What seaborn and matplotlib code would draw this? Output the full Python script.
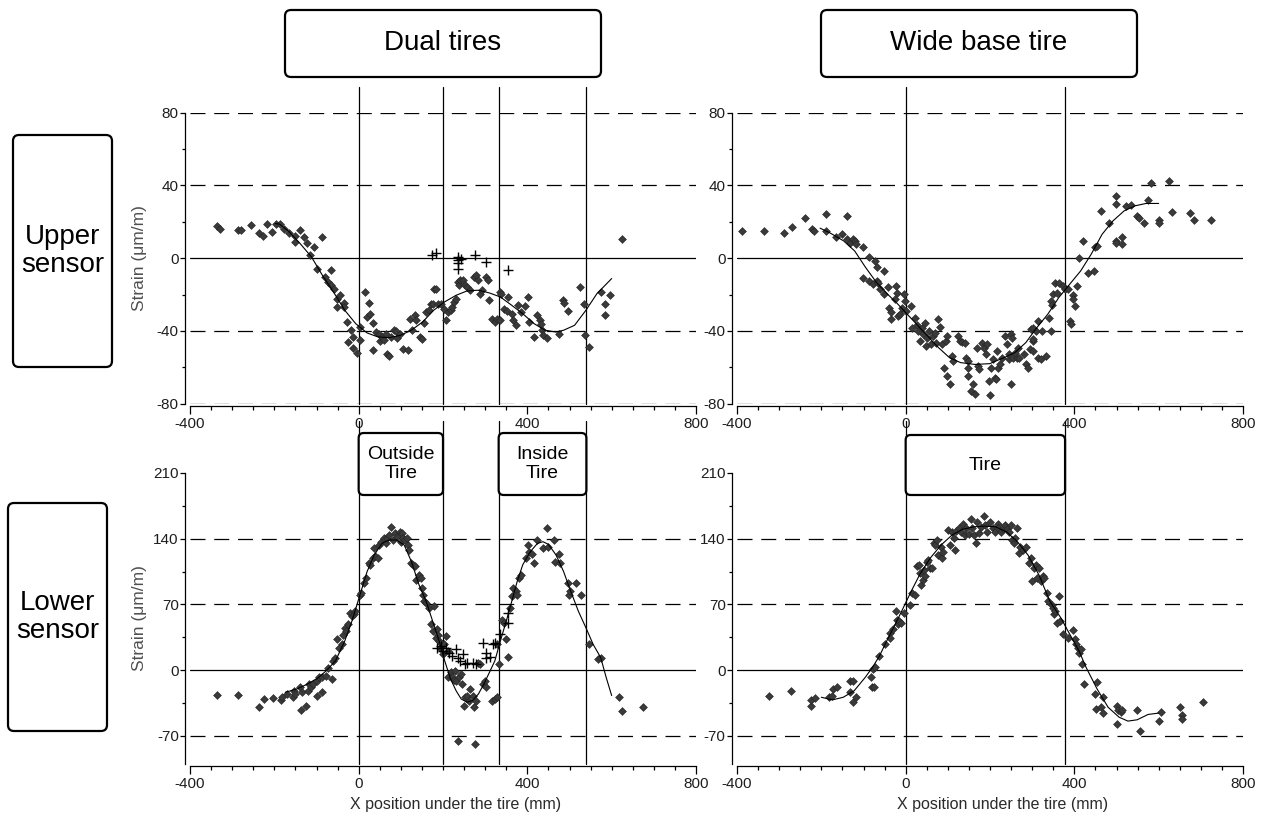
import matplotlib

matplotlib.use("Agg")

import matplotlib.pyplot as plt
import seaborn as sns
from matplotlib.patches import FancyBboxPatch
from matplotlib.ticker import MultipleLocator


# ---- upper sensor, dual tires ----
UD_X = [-335, -328, -286, -278, -256, -236, -227, -217, -205, -196, -187, -176, -165, -152, -152,
        -139, -130, -123, -115, -106, -99, -86, -80, -73, -66, -66, -58, -51, -45, -51, -35, -35,
        -27, -26, -17, -13, -14, -5, 2, 2, 14, 20, 25, 28, 35, 35, 42, 48, 50, 55, 59, 64, 68, 72,
        77, 83, 88, 92, 99, 106, 116, 122, 127, 134, 136, 145, 150, 156, 160, 167, 171, 176, 178,
        184, 187, 196, 203, 206, 213, 218, 222, 226, 231, 235, 238, 241, 248, 253, 257, 264, 273,
        279, 284, 288, 292, 301, 306, 308, 317, 323, 328, 335, 336, 338, 345, 352, 354, 363, 367,
        372, 378, 385, 394, 402, 405, 416, 424, 429, 433, 435, 438, 446, 475, 484, 486, 496, 526,
        534, 537, 546, 574, 585, 585, 596, 625]
UD_Y = [17.6, 16.1, 15.4, 15.4, 18.2, 13.6, 12.1, 18.7, 14.5, 18.7, 18.7, 16.3, 13.6, 12.1, 9.0,
        15.4, 11.7, 8.4, 2.0, 6.2, -5.7, 11.4, -10.3, -13.0, -6.6, -14.9, -16.7, -22.2, -20.4, -26.8,
        -24.6, -26.8, -35.0, -46.0, -39.6, -43.3, -49.2, -52.0, -45.0, -37.8, -18.5, -32.3, -24.4,
        -30.5, -35.6, -50.6, -40.6, -41.5, -45.5, -43.3, -45.1, -41.5, -52.5, -54.0, -43.3, -39.3,
        -40.0, -43.7, -41.5, -49.7, -50.6, -33.2, -39.6, -31.4, -34.1, -43.3, -44.2, -35.6, -29.5,
        -28.3, -25.0, -25.0, -16.7, -16.7, -25.0, -25.3, -27.7, -34.1, -29.5, -28.6, -26.8, -24.0,
        -22.2, -13.0, -14.9, -12.1, -12.1, -14.9, -15.8, -17.6, -10.3, -9.4, -12.1, -19.5, -17.6,
        -10.3, -12.1, -23.1, -33.2, -35.0, -33.2, -34.1, -18.5, -19.5, -27.7, -29.0, -21.3, -30.5,
        -34.1, -36.9, -25.9, -29.5, -26.4, -21.3, -35.0, -43.3, -31.4, -34.1, -36.0, -39.6, -42.4,
        -43.7, -41.5, -22.8, -24.6, -29.2, -15.8, -25.3, -42.4, -48.8, -18.5, -25.3, -31.4, -20.4,
        10.6]
UD_PLUS_X = [175, 183, 235, 235, 235, 235, 242, 275, 301, 354]
UD_PLUS_Y = [1.7, 2.9, 0.4, -1.1, -2.9, -6.2, -0.7, 1.7, -2.0, -6.6]
UD_FIT_X = [-198, -187, -165, -139, -112, -86, -60, -33, -7, 20, 46, 72, 99, 125, 152, 178, 204,
            231, 257, 284, 310, 336, 363, 389, 416, 442, 468, 486, 512, 539, 565, 600]
UD_FIT_Y = [19.1, 18.7, 14.5, 8.1, 0.7, -9.4, -18.5, -28.6, -36.0, -41.1, -43.3, -43.7, -42.4,
            -39.6, -35.0, -28.6, -24.0, -20.4, -18.0, -17.6, -19.1, -21.3, -25.9, -30.5, -36.0,
            -39.6, -40.6, -39.6, -36.9, -28.6, -19.5, -11.2]

# ---- upper sensor, wide base tire ----
UW_X = [-387, -337, -289, -269, -239, -223, -218, -188, -188, -166, -152, -138, -138, -131, -125,
        -121, -117, -102, -102, -88, -86, -78, -72, -69, -67, -65, -60, -52, -52, -43, -39, -35,
        -35, -26, -22, -20, -17, -13, -9, -4, -2, 0, 13, 16, 22, 26, 30, 33, 39, 42, 45, 48, 50,
        56, 60, 65, 69, 73, 76, 82, 85, 91, 95, 98, 99, 104, 111, 112, 123, 128, 134, 141, 143,
        147, 147, 149, 154, 160, 164, 168, 171, 173, 181, 186, 190, 194, 197, 199, 203, 207, 212,
        214, 216, 218, 223, 229, 235, 240, 244, 246, 249, 250, 252, 255, 259, 263, 266, 268, 281,
        285, 289, 294, 298, 301, 301, 301, 302, 309, 315, 315, 320, 324, 332, 341, 344, 345, 347,
        350, 354, 358, 363, 374, 378, 384, 390, 393, 397, 397, 402, 406, 410, 421, 432, 447, 449,
        454, 463, 482, 499, 499, 499, 499, 514, 514, 522, 535, 548, 553, 566, 574, 583, 600, 600,
        624, 632, 675, 684, 725]
UW_Y = [15.0, 15.0, 13.6, 17.2, 22.0, 16.0, 15.0, 24.2, 14.7, 11.7, 13.2, 23.3, 10.5, 8.6, 10.5,
        9.5, 7.7, 6.2, -11.0, 0.4, -12.5, -14.3, -1.5, -12.5, -5.1, -13.9, -17.0, -7.0, -19.5,
        -16.1, -27.2, -29.4, -33.6, -22.6, -15.2, -18.9, -31.7, -30.8, -27.2, -19.8, -23.5, -29.0,
        -26.2, -38.2, -32.7, -36.7, -40.0, -45.5, -38.2, -41.8, -35.4, -48.3, -43.7, -40.0, -47.3,
        -42.8, -40.9, -46.4, -33.6, -37.8, -47.3, -60.2, -45.5, -64.8, -42.8, -69.4, -53.8, -56.5,
        -42.8, -45.5, -45.9, -46.4, -54.7, -60.2, -64.8, -56.5, -73.0, -69.4, -74.9, -49.2, -59.3,
        -61.1, -46.4, -49.2, -52.8, -47.3, -67.5, -75.2, -60.2, -55.6, -65.7, -66.6, -51.0, -60.2,
        -58.4, -54.7, -42.8, -47.3, -55.6, -52.8, -69.4, -41.8, -43.7, -54.7, -51.9, -54.7, -49.2,
        -54.7, -52.8, -58.4, -60.2, -50.1, -39.1, -38.2, -45.5, -51.0, -44.6, -40.0, -34.5, -54.7,
        -55.6, -40.0, -53.8, -32.7, -40.0, -23.5, -25.9, -19.5, -13.4, -18.9, -13.4, -15.2, -17.0,
        -17.0, -34.5, -36.3, -20.2, -22.6, -26.2, -15.2, 0.0, 9.5, -8.4, -7.3, 5.9, 6.8, 26.0,
        19.6, 34.3, 29.7, 9.5, 8.1, 11.4, 7.7, 28.8, 29.4, 23.3, 22.0, 19.6, 32.1, 41.3, 20.9,
        19.1, 42.6, 25.5, 24.6, 21.1, 21.1]
UW_FIT_X = [-203, -181, -147, -121, -95, -69, -43, -22, 0, 26, 52, 78, 104, 130, 164, 199, 233,
            259, 285, 311, 337, 363, 389, 415, 440, 466, 492, 518, 544, 570, 600]
UW_FIT_Y = [16.5, 14.1, 9.5, 4.0, -5.1, -13.4, -19.8, -24.4, -29.9, -36.3, -42.8, -49.2, -54.7,
            -57.4, -58.4, -58.0, -54.7, -51.9, -46.4, -38.2, -30.8, -21.7, -14.3, -7.0, 2.2, 13.2,
            20.6, 26.0, 28.8, 30.1, 30.1]

# ---- lower sensor, dual tires ----
LD_X = [-335, -286, -236, -225, -202, -184, -182, -170, -156, -153, -152, -139, -136, -134, -125,
        -121, -117, -112, -108, -99, -99, -93, -86, -86, -77, -73, -64, -61, -55, -51, -46, -40,
        -38, -33, -29, -26, -20, -16, -11, -9, 2, 6, 13, 18, 24, 27, 33, 37, 39, 46, 48, 53, 59,
        64, 68, 72, 77, 81, 85, 90, 97, 100, 103, 105, 111, 114, 116, 120, 125, 129, 134, 136, 143,
        147, 150, 152, 156, 160, 167, 171, 176, 178, 183, 185, 187, 191, 194, 196, 200, 203, 206,
        211, 213, 218, 222, 226, 229, 232, 235, 239, 243, 246, 249, 252, 257, 261, 265, 270, 273,
        275, 279, 284, 288, 294, 299, 303, 317, 323, 328, 328, 332, 341, 345, 350, 353, 359, 363,
        367, 372, 376, 380, 384, 398, 402, 405, 411, 415, 424, 437, 446, 450, 464, 466, 476, 478,
        496, 499, 502, 515, 528, 547, 567, 575, 618, 625, 675]
LD_Y = [-27.0, -27.0, -38.8, -30.7, -29.6, -31.7, -28.9, -25.4, -28.9, -22.6, -25.4, -18.3, -42.3,
        -23.6, -37.7, -21.9, -14.8, -18.3, -14.8, -27.1, -11.3, -7.8, -23.6, -7.8, -6.0, 2.1, -9.5,
        9.9, 13.4, 32.8, 24.0, 27.5, 37.4, 45.1, 41.6, 48.7, 61.0, 57.5, 59.9, 62.8, 80.4, 82.2,
        92.7, 98.0, 113.9, 112.1, 119.2, 129.8, 122.0, 119.2, 133.3, 136.8, 140.3, 135.0, 140.3,
        143.9, 152.0, 138.6, 145.6, 142.1, 147.4, 136.8, 145.6, 141.0, 138.6, 141.0, 133.3, 128.0,
        113.9, 112.1, 110.4, 96.3, 101.5, 98.0, 87.4, 80.4, 73.3, 71.6, 66.3, 48.7, 41.6, 68.0,
        34.6, 43.4, 37.4, 31.0, 23.3, 29.3, 16.9, 27.5, 36.3, 20.5, -7.0, -2.5, -7.8, -10.6, -0.7,
        -12.0, -75.5, -7.8, -4.2, -14.8, -37.7, -28.9, -27.1, -32.4, -20.1, -27.1, -38.8, -79.0,
        -33.1, 8.1, 6.3, -14.8, -11.3, -18.3, -33.1, -30.7, -28.9, 27.5, 6.3, 52.9, 50.4, 32.8,
        14.1, 66.3, 78.6, 87.4, 83.9, 80.4, 98.0, 101.5, 119.9, 133.3, 126.2, 123.4, 113.9, 138.6,
        129.8, 150.9, 131.5, 138.6, 115.0, 123.4, 113.9, 92.7, 80.4, 83.9, 92.7, 80.4, 27.5, 11.6,
        13.4, -28.2, -43.7, -39.5]
LD_PLUS_X = [185, 196, 200, 208, 215, 222, 231, 235, 241, 248, 252, 258, 270, 279, 296, 301, 303,
             312, 319, 323, 335, 353, 353]
LD_PLUS_Y = [24.0, 25.7, 20.5, 24.0, 18.7, 15.2, 22.2, 13.4, 9.9, 17.6, 6.3, 8.1, 8.1, 6.3, 29.3,
             18.7, 13.4, 14.1, 27.5, 29.3, 38.1, 61.0, 50.4]
LD_FIT_X = [-174, -147, -121, -95, -77, -55, -33, -16, 2, 20, 37, 55, 72, 90, 108, 125, 143, 160,
            178, 191, 204, 218, 231, 243, 257, 270, 284, 297, 310, 323, 336, 350, 363, 376, 389,
            407, 424, 437, 450, 468, 486, 503, 521, 539, 556, 574, 587, 600]
LD_FIT_Y = [-23.6, -20.1, -14.8, -7.8, -0.7, 9.9, 31.0, 52.2, 78.6, 105.0, 122.7, 135.0, 138.6,
            138.6, 133.3, 115.7, 91.0, 73.3, 48.7, 31.0, 9.9, -9.5, -21.9, -30.7, -34.2, -32.4,
            -25.4, -14.8, -2.5, 9.9, 31.0, 52.2, 73.3, 94.5, 112.1, 126.2, 135.0, 136.8, 134.0,
            122.7, 105.0, 83.9, 62.8, 45.1, 27.5, 13.4, -7.8, -27.1]

# ---- lower sensor, wide base tire ----
LW_X = [-323, -272, -225, -224, -215, -182, -175, -172, -163, -133, -124, -131, -124, -118, -83,
        -81, -75, -77, -72, -64, -49, -38, -36, -29, -23, -21, -17, -15, -10, -3, 11, 15, 22, 26,
        31, 34, 37, 40, 43, 46, 50, 54, 58, 62, 67, 69, 74, 77, 83, 86, 89, 100, 106, 110, 114,
        117, 120, 126, 132, 136, 140, 144, 151, 155, 158, 162, 166, 169, 175, 179, 186, 189, 194,
        200, 206, 213, 218, 220, 226, 231, 235, 241, 246, 249, 252, 256, 260, 265, 269, 272, 278,
        286, 292, 297, 299, 304, 308, 312, 316, 321, 325, 329, 335, 338, 346, 349, 352, 355, 358,
        364, 366, 372, 385, 398, 401, 404, 409, 411, 415, 418, 424, 450, 454, 452, 464, 467, 469,
        501, 504, 501, 510, 513, 549, 556, 600, 605, 650, 656, 656, 705]
LW_Y = [-27.9, -22.6, -37.7, -31.7, -30.0, -28.9, -27.1, -20.1, -18.3, -11.3, -12.0, -23.6, -34.2,
        -28.9, -7.8, -18.3, -18.3, 1.1, 3.5, 15.2, 28.2, 39.8, 34.6, 43.4, 62.8, 53.9, 49.4, 52.2,
        50.4, 61.0, 69.8, 82.2, 80.4, 110.4, 112.1, 103.3, 91.0, 96.3, 106.8, 100.8, 115.7, 117.4,
        108.6, 109.3, 135.0, 133.3, 138.6, 122.7, 131.5, 119.2, 126.2, 148.8, 133.3, 147.4, 141.0,
        128.0, 148.1, 150.9, 147.4, 156.2, 143.9, 150.9, 144.6, 160.8, 150.9, 143.9, 135.0, 158.0,
        145.6, 152.7, 164.3, 154.4, 147.4, 158.0, 150.9, 147.4, 156.2, 151.6, 147.4, 150.9, 154.4,
        150.2, 147.4, 155.1, 138.6, 135.0, 140.3, 150.9, 124.5, 131.5, 128.0, 131.5, 113.9, 119.2,
        94.5, 108.6, 112.1, 98.0, 108.6, 94.5, 99.8, 98.0, 82.2, 73.3, 69.8, 66.3, 59.9, 62.8,
        50.4, 78.6, 52.2, 38.1, 34.6, 42.3, 32.8, 27.5, 24.0, 18.7, 22.2, 6.3, -14.8, -25.4,
        -13.0, -41.3, -39.5, -45.8, -28.9, -37.7, -43.0, -57.1, -44.8, -43.0, -42.3, -64.9, -54.3,
        -44.8, -38.8, -48.3, -51.8, -34.2]
LW_FIT_X = [-200, -174, -148, -122, -96, -79, -62, -45, -23, -2, 15, 33, 58, 84, 110, 136, 162,
            187, 213, 239, 265, 290, 316, 342, 368, 385, 411, 428, 454, 480, 506, 527, 549, 575, 600]
LW_FIT_Y = [-28.9, -31.7, -28.9, -21.9, -7.8, 2.8, 15.2, 31.0, 50.4, 69.8, 85.7, 101.5, 119.2,
            133.3, 143.9, 150.2, 152.7, 153.4, 152.7, 147.4, 136.8, 122.7, 101.5, 73.3, 55.7, 41.6,
            20.5, 2.8, -20.1, -39.5, -50.1, -54.3, -52.9, -47.2, -45.8]

DUAL_EDGES = [0, 200, 332, 540]
WIDE_EDGES = [0, 378]
UPPER_TICKS = (-80, 80, 40, 20, [-80, -40, 40, 80])
LOWER_TICKS = (-100, 210, 70, 35, [-70, 70, 140])

COLUMN_TITLES = ["Dual tires", "Wide base tire"]
ROW_TITLES = ["Upper\nsensor", "Lower\nsensor"]
Y_LABEL = "Strain (\u03bcm/m)"
X_LABEL = "X position under the tire (mm)"

FIG_W, FIG_H = 1269, 816
DOT = "#3a3a3a"


def px_box(fig, x0, y0, x1, y1, text, size, lw=1.6, radius=6):
    dpi = fig.dpi
    patch = FancyBboxPatch(
        (x0 / dpi, (FIG_H - y1) / dpi), (x1 - x0) / dpi, (y1 - y0) / dpi,
        boxstyle=f"round,pad=0,rounding_size={radius / dpi}",
        transform=fig.dpi_scale_trans, facecolor="white", edgecolor="black",
        linewidth=lw, zorder=5,
    )
    fig.add_artist(patch)
    fig.text((x0 + x1) / 2 / FIG_W, 1 - (y0 + y1) / 2 / FIG_H, text, ha="center", va="center",
             fontsize=size, color="black", linespacing=1.15, zorder=6)


def data_box(fig, ax, xa, xb, y0, y1, text, size):
    x0 = ax.transData.transform((xa, 0))[0]
    x1 = ax.transData.transform((xb, 0))[0]
    px_box(fig, x0, y0, x1, y1, text, size, lw=1.6, radius=5)


def draw_panel(ax, xs, ys, fx, fy, px, py, ticks, edges, edge_top):
    ymin, ymax, major, minor, dashed = ticks
    ax.set_xlim(-400, 800)
    ax.set_ylim(ymin, ymax)
    for y in dashed:
        ax.axhline(y, color="black", lw=0.9, ls=(0, (12, 7)), zorder=1)
    ax.axhline(0, color="black", lw=0.9, zorder=1)
    for x in edges:
        ax.plot([x, x], [0, edge_top], transform=ax.get_xaxis_transform(), color="black",
                lw=0.9, clip_on=False, zorder=1)
    sns.scatterplot(x=xs, y=ys, marker="D", s=16, color=DOT, edgecolor="#222222",
                    linewidth=0.4, ax=ax, zorder=3)
    if px:
        sns.scatterplot(x=px, y=py, marker="+", s=45, color="black", linewidth=1.0,
                        ax=ax, zorder=4)
    sns.lineplot(x=fx, y=fy, color="black", lw=0.8, sort=False, estimator=None,
                 ax=ax, zorder=5)

    ax.xaxis.set_major_locator(MultipleLocator(400))
    ax.xaxis.set_minor_locator(MultipleLocator(50))
    ax.yaxis.set_major_locator(MultipleLocator(major))
    ax.yaxis.set_minor_locator(MultipleLocator(minor))
    ax.tick_params(axis="x", which="major", length=6, width=0.9, pad=2,
                   labelsize=11, labelcolor="#1e1e1e", color="black")
    ax.tick_params(axis="x", which="minor", length=3, width=0.9, color="black")
    ax.tick_params(axis="y", which="major", length=3.5, width=0.9, pad=1,
                   labelsize=11, labelcolor="#1e1e1e", color="black")
    ax.tick_params(axis="y", which="minor", length=2.5, width=0.9, color="black")
    for side in ("top", "right"):
        ax.spines[side].set_visible(False)
    ax.spines["left"].set_position(("outward", 3.6))
    ax.spines["bottom"].set_position(("outward", 1.5))
    for side in ("left", "bottom"):
        ax.spines[side].set_linewidth(0.9)
        ax.spines[side].set_color("black")
    ax.set_xlabel("")
    ax.set_ylabel("")
    ax.grid(False)


def main():
    sns.set_theme(style="ticks")
    plt.rcParams["font.family"] = ["Liberation Sans", "DejaVu Sans"]
    plt.rcParams["axes.unicode_minus"] = False

    fig = plt.figure(figsize=(FIG_W / 100, FIG_H / 100), dpi=100)
    fig.patch.set_facecolor("white")

    lefts = [190, 737]
    tops = [112.7, 473]
    w_px, h_px = 506, 291
    axes = {}
    for r, top in enumerate(tops):
        for c, left in enumerate(lefts):
            rect = [left / FIG_W, 1 - (top + h_px) / FIG_H, w_px / FIG_W, h_px / FIG_H]
            axes[(r, c)] = fig.add_axes(rect)

    draw_panel(axes[(0, 0)], UD_X, UD_Y, UD_FIT_X, UD_FIT_Y, UD_PLUS_X, UD_PLUS_Y,
               UPPER_TICKS, DUAL_EDGES, 1.088)
    draw_panel(axes[(0, 1)], UW_X, UW_Y, UW_FIT_X, UW_FIT_Y, [], [],
               UPPER_TICKS, WIDE_EDGES, 1.088)
    draw_panel(axes[(1, 0)], LD_X, LD_Y, LD_FIT_X, LD_FIT_Y, LD_PLUS_X, LD_PLUS_Y,
               LOWER_TICKS, DUAL_EDGES, 1.18)
    draw_panel(axes[(1, 1)], LW_X, LW_Y, LW_FIT_X, LW_FIT_Y, [], [],
               LOWER_TICKS, WIDE_EDGES, 1.18)

    for r in range(2):
        ax = axes[(r, 0)]
        ax.set_ylabel(Y_LABEL, fontsize=12.5, color="#505050")
        ax.yaxis.set_label_coords(-0.085, 0.5)
    for c in range(2):
        ax = axes[(1, c)]
        ax.set_xlabel(X_LABEL, fontsize=11.5, color="#2a2a2a")
        ax.xaxis.set_label_coords(0.525, -0.112)

    px_box(fig, 285, 10, 601, 77, COLUMN_TITLES[0], 20)
    px_box(fig, 821, 10, 1137, 77, COLUMN_TITLES[1], 20)
    px_box(fig, 13, 135, 112, 367, ROW_TITLES[0], 20)
    px_box(fig, 8, 503, 107, 731, ROW_TITLES[1], 20)

    data_box(fig, axes[(1, 0)], DUAL_EDGES[0], DUAL_EDGES[1], 433, 495, "Outside\nTire", 14)
    data_box(fig, axes[(1, 0)], DUAL_EDGES[2], DUAL_EDGES[3], 433, 495, "Inside\nTire", 14)
    data_box(fig, axes[(1, 1)], WIDE_EDGES[0], WIDE_EDGES[1], 435, 495, "Tire", 14)

    fig.savefig("out.png", dpi=100, facecolor="white")
    plt.close(fig)


if __name__ == "__main__":
    main()
